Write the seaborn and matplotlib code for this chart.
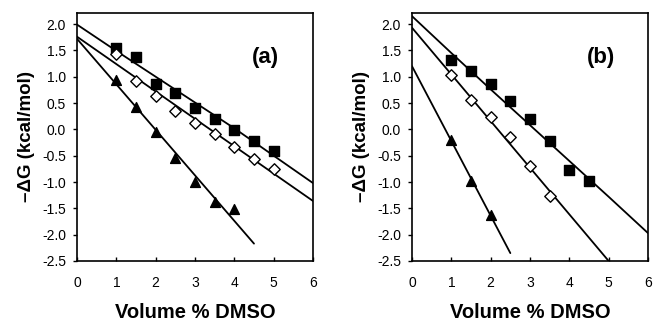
import numpy as np
import pandas as pd
import seaborn as sns
import matplotlib.pyplot as plt

# panel (a) measured points
a_x_sq = [1, 1.5, 2, 2.5, 3, 3.5, 4, 4.5, 5]
a_y_sq = [1.55, 1.38, 0.87, 0.69, 0.41, 0.19, -0.01, -0.22, -0.41]
a_x_di = [1, 1.5, 2, 2.5, 3, 3.5, 4, 4.5, 5]
a_y_di = [1.44, 0.91, 0.63, 0.35, 0.12, -0.08, -0.33, -0.56, -0.76]
a_x_tr = [1, 1.5, 2, 2.5, 3, 3.5, 4]
a_y_tr = [0.93, 0.43, -0.05, -0.55, -1.0, -1.38, -1.52]

# panel (a) fitted curves
a_fit_x_sq = [0, 1, 2, 3, 4, 5, 6]
a_fit_y_sq = [1.99, 1.49, 1.0, 0.51, 0.02, -0.5, -1.02]
a_fit_x_di = [0, 1, 2, 3, 4, 5, 6]
a_fit_y_di = [1.76, 1.24, 0.72, 0.2, -0.32, -0.84, -1.36]
a_fit_x_tr = [0, 4.5]
a_fit_y_tr = [1.72, -2.17]

# panel (b) measured points
b_x_sq = [1, 1.5, 2, 2.5, 3, 3.5, 4, 4.5]
b_y_sq = [1.31, 1.11, 0.86, 0.53, 0.20, -0.22, -0.77, -0.98]
b_x_di = [1, 1.5, 2, 2.5, 3, 3.5]
b_y_di = [1.04, 0.56, 0.24, -0.15, -0.70, -1.27]
b_x_tr = [1, 1.5, 2]
b_y_tr = [-0.2, -0.98, -1.62]

# panel (b) fitted curves
b_fit_x_sq = [0, 1, 2, 3, 4, 5, 6]
b_fit_y_sq = [2.15, 1.45, 0.76, 0.08, -0.6, -1.28, -1.97]
b_fit_x_di = [0, 5]
b_fit_y_di = [1.93, -2.5]
b_fit_x_tr = [0, 2.5]
b_fit_y_tr = [1.2, -2.35]

panel_labels = ['(a)', '(b)']
x_ticks = [0, 1, 2, 3, 4, 5, 6]
y_ticks = [-2.5, -2.0, -1.5, -1.0, -0.5, 0.0, 0.5, 1.0, 1.5, 2.0]

sns.set_style('ticks')
plt.rcParams['font.family'] = ['Liberation Sans', 'DejaVu Sans']
plt.rcParams['axes.unicode_minus'] = False
plt.rcParams['text.color'] = 'black'
plt.rcParams['axes.labelcolor'] = 'black'

fig = plt.figure(figsize=(6.54, 3.27), dpi=100)
ax_a = fig.add_axes([77 / 654, 1 - 261 / 327, 236 / 654, 248 / 327])
ax_b = fig.add_axes([412 / 654, 1 - 261 / 327, 236 / 654, 248 / 327])

panels = [
    (ax_a, [(a_x_sq, a_y_sq), (a_x_di, a_y_di), (a_x_tr, a_y_tr)],
     [(a_fit_x_sq, a_fit_y_sq), (a_fit_x_di, a_fit_y_di), (a_fit_x_tr, a_fit_y_tr)]),
    (ax_b, [(b_x_sq, b_y_sq), (b_x_di, b_y_di), (b_x_tr, b_y_tr)],
     [(b_fit_x_sq, b_fit_y_sq), (b_fit_x_di, b_fit_y_di), (b_fit_x_tr, b_fit_y_tr)]),
]

# square filled, diamond open, triangle filled
styles = [('s', 'black', 48), ('D', 'white', 34), ('^', 'black', 50)]

for (ax, pts, fits), lab in zip(panels, panel_labels):
    for fx, fy in fits:
        df = pd.DataFrame({'x': fx, 'y': fy})
        sns.lineplot(data=df, x='x', y='y', ax=ax, color='black', lw=1.3, zorder=2)
    for (px, py), (m, fc, s) in zip(pts, styles):
        df = pd.DataFrame({'x': px, 'y': py})
        sns.scatterplot(data=df, x='x', y='y', ax=ax, marker=m, s=s,
                        facecolor=fc, edgecolor='black', linewidth=1.0, zorder=3)
    ax.set_xlim(0, 6)
    ax.set_ylim(-2.5, 2.21)
    ax.set_xticks(x_ticks)
    ax.set_yticks(y_ticks)
    ax.set_xticklabels([str(t) for t in x_ticks])
    ax.set_yticklabels(['%.1f' % t for t in y_ticks])
    ax.tick_params(axis='x', direction='in', length=3, width=1, labelsize=10,
                   colors='black', pad=11)
    ax.tick_params(axis='y', direction='out', length=3, width=1, labelsize=10,
                   colors='black', pad=5)
    for sp in ax.spines.values():
        sp.set_visible(True)
        sp.set_linewidth(1.2)
        sp.set_color('black')
    ax.set_xlabel('Volume % DMSO', fontsize=14.5, fontweight='bold', labelpad=9)
    ax.set_ylabel('\u2013\u0394G (kcal/mol)', fontsize=13.5, fontweight='bold', labelpad=5)
    ax.text(4.8, 1.37, lab, fontsize=16, fontweight='bold', ha='center', va='center')

fig.savefig('out.png', dpi=100)
